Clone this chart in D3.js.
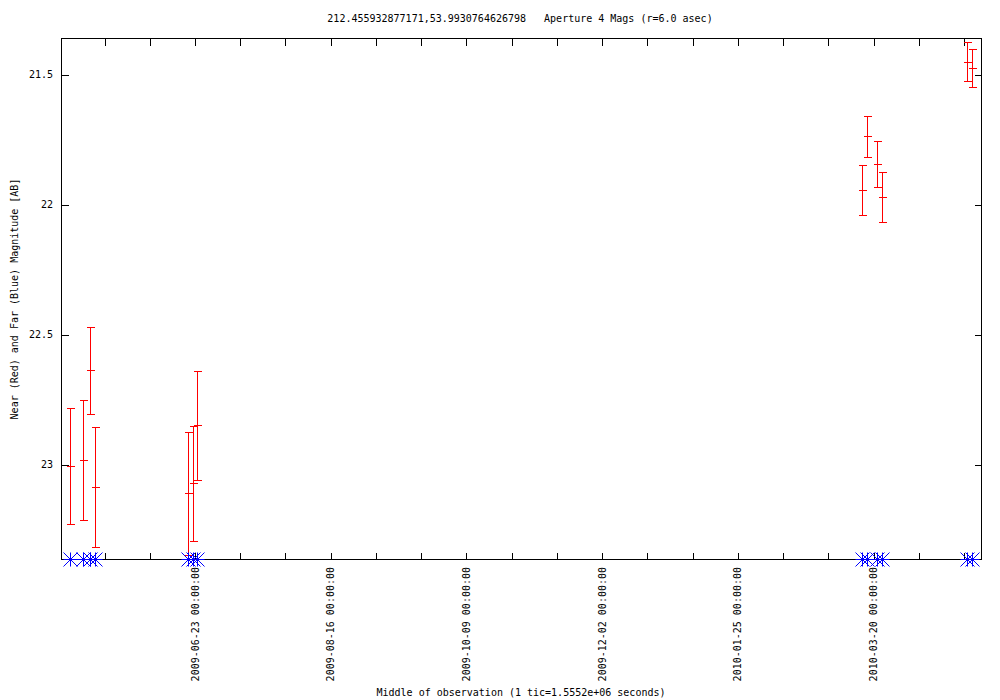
<!DOCTYPE html>
<html><head><meta charset="utf-8">
<script src="https://cdn.jsdelivr.net/npm/d3@7/dist/d3.min.js"></script>
<style>
body{margin:0;background:#fff}
text{font-family:"DejaVu Sans Mono","Liberation Mono",monospace;font-size:10px;fill:#000}
</style>
</head><body>
<svg id="c" width="1000" height="700"></svg>
<script>
const title = "212.455932877171,53.9930764626798   Aperture 4 Mags (r=6.0 asec)";
const xLabel = "Middle of observation (1 tic=1.5552e+06 seconds)";
const yLabel = "Near (Red) and Far (Blue) Magnitude [AB]";

const obsTimes = [
  "2009-05-04T12:00:00Z","2009-05-09T19:00:00Z","2009-05-12T10:00:00Z","2009-05-14T14:00:00Z",
  "2009-06-20T12:00:00Z","2009-06-22T07:00:00Z","2009-06-23T22:00:00Z",
  "2010-03-15T17:00:00Z","2010-03-17T17:00:00Z","2010-03-21T17:00:00Z","2010-03-23T17:00:00Z",
  "2010-04-26T12:00:00Z","2010-04-28T12:00:00Z"
];
const nearMag = [23.004, 22.982, 22.636, 23.086, 23.109, 23.071, 22.848, 21.943, 21.736, 21.843, 21.970, 21.451, 21.475];
const nearErr = [0.223, 0.230, 0.168, 0.231, 0.236, 0.220, 0.210, 0.096, 0.079, 0.087, 0.096, 0.075, 0.073];
const farMag  = [99, 99, 99, 99, 99, 99, 99, 99, 99, 99, 99, 99, 99];

const yTicks = [21.5, 22, 22.5, 23];
const xTickDates = ["2009-05-18","2009-06-05","2009-06-23","2009-07-11","2009-07-29","2009-08-16",
  "2009-09-03","2009-09-21","2009-10-09","2009-10-27","2009-11-14","2009-12-02","2009-12-20",
  "2010-01-07","2010-01-25","2010-02-12","2010-03-02","2010-03-20","2010-04-07","2010-04-25"];
const xLabelDates = ["2009-06-23","2009-08-16","2009-10-09","2009-12-02","2010-01-25","2010-03-20"];
const xDomain = ["2009-04-30T21:00:00Z","2010-05-01T23:00:00Z"];
const yDomain = [21.359, 23.3615];

const L = 61, R = 981, T = 38, B = 559;
const svg = d3.select("#c");
const parse = s => new Date(s.length === 10 ? s + "T00:00:00Z" : s);

const x = d3.scaleUtc().domain(xDomain.map(parse)).range([L, R]);
const y = d3.scaleLinear().domain(yDomain).range([T, B]).clamp(true);
const px = v => Math.round(v) + 0.5;

const data = obsTimes.map((t, i) => ({t: parse(t), m: nearMag[i], e: nearErr[i], f: farMag[i]}));

// ticks (inward, mirrored)
const tickDates = xTickDates.map(parse);
svg.append("g").attr("transform", `translate(0.5,${B + 0.5})`)
  .call(d3.axisBottom(x).tickValues(tickDates).tickSizeInner(-7).tickSizeOuter(0).tickFormat(""))
  .call(g => g.select(".domain").remove());
svg.append("g").attr("transform", `translate(0.5,${T + 0.5})`)
  .call(d3.axisTop(x).tickValues(tickDates).tickSizeInner(-7).tickSizeOuter(0).tickFormat(""))
  .call(g => g.select(".domain").remove());
svg.append("g").attr("transform", `translate(${L + 0.5},0.5)`)
  .call(d3.axisLeft(y).tickValues(yTicks).tickSizeInner(-7).tickSizeOuter(0).tickFormat(""))
  .call(g => g.select(".domain").remove());
svg.append("g").attr("transform", `translate(${R + 0.5},0.5)`)
  .call(d3.axisRight(y).tickValues(yTicks).tickSizeInner(-7).tickSizeOuter(0).tickFormat(""))
  .call(g => g.select(".domain").remove());
svg.selectAll(".tick line").attr("stroke", "#000").attr("shape-rendering", "crispEdges");

// frame
svg.append("rect").attr("x", L + 0.5).attr("y", T + 0.5).attr("width", R - L).attr("height", B - T)
  .attr("fill", "none").attr("stroke", "#000").attr("shape-rendering", "crispEdges");

// y tick labels
svg.selectAll(".ylab").data(yTicks).enter().append("text")
  .attr("x", 53).attr("y", d => y(d)).attr("dy", "0.35em").attr("text-anchor", "end")
  .text(d => d3.format("")(d));

// x tick labels
svg.selectAll(".xlab").data(xLabelDates).enter().append("text")
  .attr("transform", d => `translate(${x(parse(d)) + 4},567) rotate(-90)`)
  .attr("text-anchor", "end")
  .text(d => d + " 00:00:00");

// titles
svg.append("text").attr("x", 520).attr("y", 22).attr("text-anchor", "middle")
  .style("white-space", "pre").text(title);
svg.append("text").attr("x", 521).attr("y", 696).attr("text-anchor", "middle").text(xLabel);
svg.append("text").attr("transform", "translate(18,299) rotate(-90)").attr("text-anchor", "middle").text(yLabel);

// error bars (near, red)
const eb = svg.append("g").attr("stroke", "#ff0000").attr("stroke-width", 1).attr("shape-rendering", "crispEdges");
data.forEach(d => {
  const cx = px(x(d.t));
  const y0 = px(y(d.m - d.e)), y1 = px(y(d.m + d.e)), yc = px(y(d.m));
  eb.append("line").attr("x1", cx).attr("x2", cx).attr("y1", y0).attr("y2", y1);
  [y0, y1, yc].forEach(yy => eb.append("line").attr("x1", cx - 4).attr("x2", cx + 4).attr("y1", yy).attr("y2", yy));
});

// far points (blue stars)
const st = svg.append("g").attr("stroke", "#0000ff").attr("stroke-width", 1);
data.forEach(d => {
  const cx = px(x(d.t)), cy = px(y(d.f)), s = 7;
  st.append("path").attr("d",
    `M${cx - s},${cy}H${cx + s}M${cx},${cy - s}V${cy + s}M${cx - s},${cy - s}L${cx + s},${cy + s}M${cx - s},${cy + s}L${cx + s},${cy - s}`);
});
</script>
</body></html>
